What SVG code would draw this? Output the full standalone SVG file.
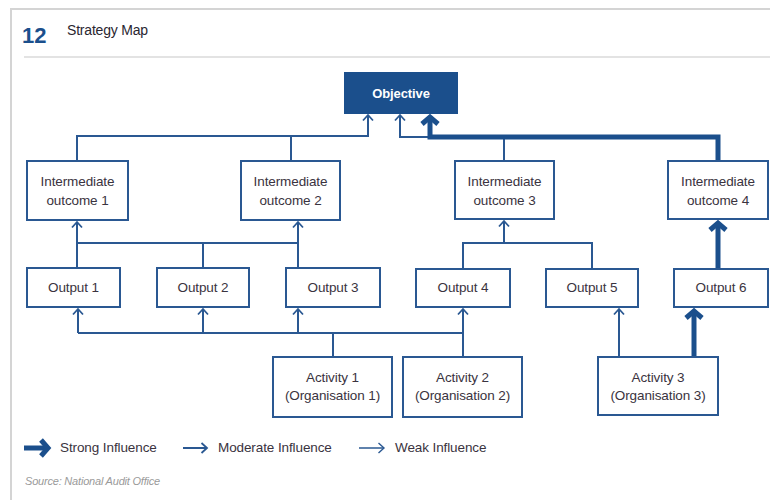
<svg xmlns="http://www.w3.org/2000/svg" width="770" height="500" viewBox="0 0 770 500">
<defs>
<style>
.box{fill:#fff;stroke:#2a5892;stroke-width:2}
.obj{fill:#1b4f8c;stroke:#1b4f8c;stroke-width:2}
.t{font-family:"Liberation Sans",Arial,sans-serif;font-size:13.5px;fill:#3a3340;text-anchor:middle;letter-spacing:-0.1px}
.mod{fill:none;stroke:#2a5892;stroke-width:2}
.thick{fill:none;stroke:#1b4f8c;stroke-width:5}
.weak{fill:none;stroke:#2a5892;stroke-width:1.5}
</style>
<marker id="ah" markerUnits="userSpaceOnUse" markerWidth="20" markerHeight="20" viewBox="-10 -10 20 20" refX="0" refY="0" orient="auto">
<path d="M-5.5,-5 L0,0 L-5.5,5" fill="none" stroke="#2a5892" stroke-width="1.8"/>
</marker>
<marker id="ahw" markerUnits="userSpaceOnUse" markerWidth="20" markerHeight="20" viewBox="-10 -10 20 20" refX="0" refY="0" orient="auto">
<path d="M-5.5,-5 L0,0 L-5.5,5" fill="none" stroke="#2a5892" stroke-width="1.4"/>
</marker>
<marker id="aht" markerUnits="userSpaceOnUse" markerWidth="30" markerHeight="30" viewBox="-15 -15 30 30" refX="0" refY="0" orient="auto">
<path d="M-7,-8 L0,0 L-7,8" fill="none" stroke="#1b4f8c" stroke-width="5" stroke-linejoin="miter"/>
</marker>
</defs>
<rect x="0" y="0" width="770" height="500" fill="#fff"/>
<rect x="11" y="9" width="800" height="600" fill="none" stroke="#d4d4d4" stroke-width="2"/>
<text x="22" y="43" font-family="Liberation Sans,Arial,sans-serif" font-size="22" font-weight="bold" fill="#1b4f8c">12</text>
<text x="67" y="35" font-family="Liberation Sans,Arial,sans-serif" font-size="14" fill="#2a2630" letter-spacing="-0.2">Strategy Map</text>
<line x1="24" y1="57" x2="770" y2="57" stroke="#c8c8c8" stroke-width="1.2"/>

<g id="connectors">
<path class="mod" d="M77,161 V136 H368 V115" marker-end="url(#ah)"/>
<path class="mod" d="M291,161 V136"/>
<path class="mod" d="M504,161 V137 H400 V115" marker-end="url(#ah)"/>
<path class="thick" d="M718,161 V137 H430 V117" marker-end="url(#aht)"/>
<path class="mod" d="M77,268 V243 H298"/>
<path class="mod" d="M77,243 V222" marker-end="url(#ah)"/>
<path class="mod" d="M298,268 V222" marker-end="url(#ah)"/>
<path class="mod" d="M203,268 V243"/>
<path class="mod" d="M78,333 H463"/>
<path class="mod" d="M78,333 V309" marker-end="url(#ah)"/>
<path class="mod" d="M203,333 V309" marker-end="url(#ah)"/>
<path class="mod" d="M298,333 V309" marker-end="url(#ah)"/>
<path class="mod" d="M333,357 V333"/>
<path class="mod" d="M463,357 V309" marker-end="url(#ah)"/>
<path class="mod" d="M463,269 V243 H592 V269"/>
<path class="mod" d="M504,243 V221" marker-end="url(#ah)"/>
<path class="mod" d="M619,357 V309" marker-end="url(#ah)"/>
<path class="thick" d="M694,357 V311" marker-end="url(#aht)"/>
<path class="thick" d="M718,269 V223" marker-end="url(#aht)"/>
</g>

<g id="objective"><rect class="obj" x="345" y="73" width="112" height="40"/><text class="t" x="401" y="98" style="fill:#fff;font-weight:bold;font-size:13px">Objective</text></g>
<g id="io1"><rect class="box" x="27" y="161" width="101" height="59"/><text class="t" x="77.5" y="186">Intermediate</text><text class="t" x="77.5" y="205">outcome 1</text></g>
<g id="io2"><rect class="box" x="241" y="161" width="99" height="59"/><text class="t" x="290.5" y="186">Intermediate</text><text class="t" x="290.5" y="205">outcome 2</text></g>
<g id="io3"><rect class="box" x="455" y="161" width="99" height="58"/><text class="t" x="504.5" y="186">Intermediate</text><text class="t" x="504.5" y="205">outcome 3</text></g>
<g id="io4"><rect class="box" x="668" y="161" width="100" height="58"/><text class="t" x="718" y="186">Intermediate</text><text class="t" x="718" y="205">outcome 4</text></g>
<g id="out1"><rect class="box" x="27" y="268" width="93" height="39"/><text class="t" x="73.5" y="292">Output 1</text></g>
<g id="out2"><rect class="box" x="157" y="268" width="92" height="39"/><text class="t" x="203" y="292">Output 2</text></g>
<g id="out3"><rect class="box" x="286" y="268" width="94" height="39"/><text class="t" x="333" y="292">Output 3</text></g>
<g id="out4"><rect class="box" x="416" y="269" width="94" height="38"/><text class="t" x="463" y="292">Output 4</text></g>
<g id="out5"><rect class="box" x="546" y="269" width="92" height="38"/><text class="t" x="592" y="292">Output 5</text></g>
<g id="out6"><rect class="box" x="674" y="269" width="94" height="38"/><text class="t" x="721" y="292">Output 6</text></g>
<g id="act1"><rect class="box" x="273" y="357" width="119" height="60"/><text class="t" x="332.5" y="382">Activity 1</text><text class="t" x="332.5" y="400">(Organisation 1)</text></g>
<g id="act2"><rect class="box" x="403" y="357" width="119" height="60"/><text class="t" x="462.5" y="382">Activity 2</text><text class="t" x="462.5" y="400">(Organisation 2)</text></g>
<g id="act3"><rect class="box" x="598" y="357" width="120" height="58"/><text class="t" x="658" y="382">Activity 3</text><text class="t" x="658" y="400">(Organisation 3)</text></g>

<g id="legend">
<path class="thick" d="M24,448 H48" marker-end="url(#aht)"/>
<text class="t" x="60" y="452" style="text-anchor:start">Strong Influence</text>
<path class="mod" d="M183,448 H207" marker-end="url(#ah)"/>
<text class="t" x="218" y="452" style="text-anchor:start">Moderate Influence</text>
<path class="weak" d="M359,448 H384" marker-end="url(#ahw)"/>
<text class="t" x="395" y="452" style="text-anchor:start">Weak Influence</text>
</g>
<text x="25" y="485" font-family="Liberation Sans,Arial,sans-serif" font-size="11" font-style="italic" fill="#9a9a9a" letter-spacing="-0.2">Source: National Audit Office</text>
</svg>
